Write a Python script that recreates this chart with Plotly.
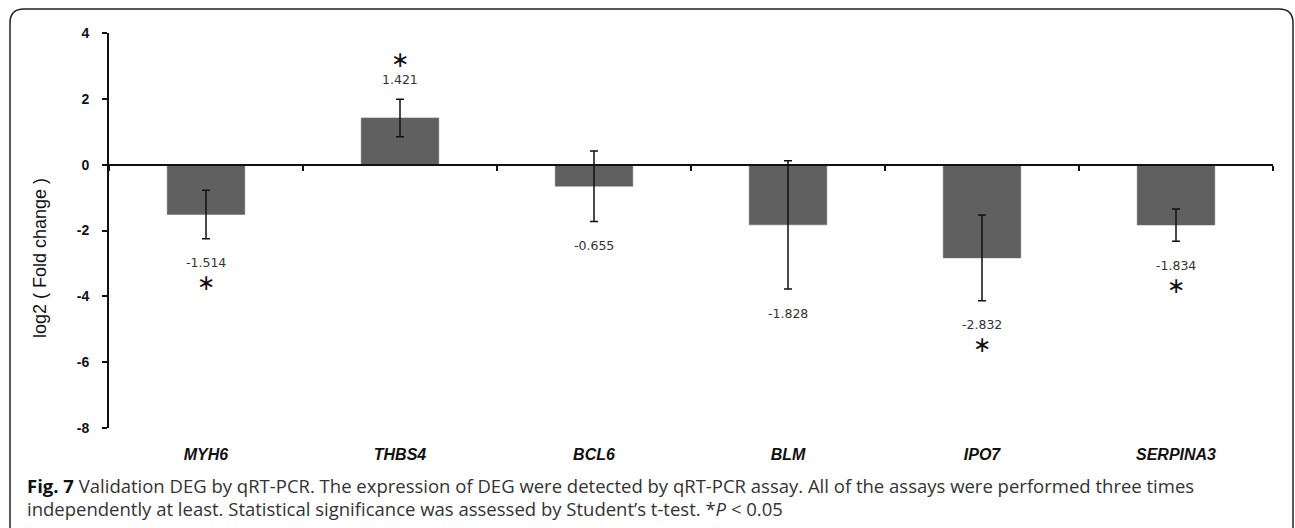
import plotly.graph_objects as go

# ---- data ----
genes = ["MYH6", "THBS4", "BCL6", "BLM", "IPO7", "SERPINA3"]
log2_fc = [-1.514, 1.421, -0.655, -1.828, -2.832, -1.834]
err = [0.74, 0.57, 1.07, 1.95, 1.30, 0.49]
significant = [True, True, False, False, True, True]
value_labels = ["-1.514", "1.421", "-0.655", "-1.828", "-2.832", "-1.834"]
y_ticks = [4, 2, 0, -2, -4, -6, -8]

# ---- layout geometry (pixels) ----
W, H = 1295, 528
L, R, T, B = 109, 1273, 33, 428
PW, PH = R - L, B - T


def px(x):
    return (x - L) / PW


def py(y):
    return (B - y) / PH


ymin, ymax = -8, 4
zero_pos = (0 - ymin) / (ymax - ymin)

fig = go.Figure()

fig.add_trace(go.Bar(
    x=genes, y=log2_fc, width=0.4,
    marker=dict(color="#606060", line=dict(color="#6a6a6a", width=0.5)),
    error_y=dict(type="data", array=err, visible=True, color="#111111",
                 thickness=1.5, width=4),
    showlegend=False, hoverinfo="skip",
))

# invisible trace that carries the bottom category labels
fig.add_trace(go.Scatter(
    x=genes, y=log2_fc, xaxis="x2", mode="markers",
    marker=dict(opacity=0), showlegend=False, hoverinfo="skip",
))

annotations = []
for g, v, e, lab, sig in zip(genes, log2_fc, err, value_labels, significant):
    if v >= 0:
        yref_val = v + e
        s_lab, s_star = 20, 40
    else:
        yref_val = v - e
        s_lab, s_star = -24, -44
    annotations.append(dict(
        x=g, y=yref_val, xref="x", yref="y", text=lab, showarrow=False,
        yshift=s_lab, font=dict(family="DejaVu Sans", size=12.5, color="#333333"),
    ))
    if sig:
        annotations.append(dict(
            x=g, y=yref_val, xref="x", yref="y", text="∗", showarrow=False,
            yshift=s_star, font=dict(family="DejaVu Sans", size=22, color="#111111"),
        ))

# y-axis title
annotations.append(dict(
    x=px(40), y=py(258), xref="paper", yref="paper", text="log2 ( Fold change )",
    textangle=-90, showarrow=False, xanchor="center", yanchor="middle",
    font=dict(family="Liberation Sans", size=18, color="#111111"),
))

# caption
cap_font = dict(family="Open Sans", size=18.5, color="#333333")
annotations.append(dict(
    x=px(25), y=py(486), xref="paper", yref="paper", xanchor="left", yanchor="middle",
    showarrow=False, font=cap_font, align="left",
    text="<b><span style='color:#111'>Fig. 7</span></b> Validation DEG by qRT-PCR. The expression of DEG were detected by qRT-PCR assay. All of the assays were performed three times",
))
annotations.append(dict(
    x=px(25), y=py(508), xref="paper", yref="paper", xanchor="left", yanchor="middle",
    showarrow=False, font=cap_font, align="left",
    text="independently at least. Statistical significance was assessed by Student’s t-test. *<i>P</i> &lt; 0.05",
))

# rounded frame (open at the bottom)
fx0, fx1, fy0, fyb, r = 10, 1293, 9, 560, 14
xl, xr, yt, yb = px(fx0), px(fx1), py(fy0), py(fyb)
rx, ry = r / PW, r / PH
path = (f"M {xl},{yb} L {xl},{yt - ry} Q {xl},{yt} {xl + rx},{yt} "
        f"L {xr - rx},{yt} Q {xr},{yt} {xr},{yt - ry} L {xr},{yb}")

fig.update_layout(
    width=W, height=H,
    margin=dict(l=L, r=W - R, t=T, b=H - B),
    paper_bgcolor="white", plot_bgcolor="white",
    annotations=annotations,
    shapes=[dict(type="path", path=path, xref="paper", yref="paper",
                 line=dict(color="#222222", width=1.5), layer="above")],
    xaxis=dict(
        type="category", categoryarray=genes, range=[-0.5, 5.5],
        anchor="free", position=zero_pos,
        showline=True, linecolor="#111111", linewidth=2,
        ticks="outside", tickson="boundaries", ticklen=5, tickwidth=2, tickcolor="#111111",
        showticklabels=False, showgrid=False, zeroline=False,
    ),
    xaxis2=dict(
        type="category", categoryarray=genes, range=[-0.5, 5.5],
        overlaying="x", anchor="y", side="bottom",
        showline=False, ticks="", showgrid=False, zeroline=False,
        ticklabelstandoff=15,
        tickfont=dict(family="Liberation Sans", size=16, color="#111111", weight="bold", style="italic"),
    ),
    yaxis=dict(
        range=[ymin, ymax], tickvals=y_ticks, ticktext=[str(t) for t in y_ticks],
        showline=True, linecolor="#111111", linewidth=2,
        ticks="outside", ticklen=5, tickwidth=2, tickcolor="#111111",
        ticklabelstandoff=10,
        tickfont=dict(family="Liberation Sans", size=14, color="#111111", weight="bold"),
        showgrid=False, zeroline=False,
    ),
)

fig.write_html(
    "out.html",
    config={"displayModeBar": False},
    post_script="document.body.style.margin='0';document.body.style.overflow='hidden';",
)
